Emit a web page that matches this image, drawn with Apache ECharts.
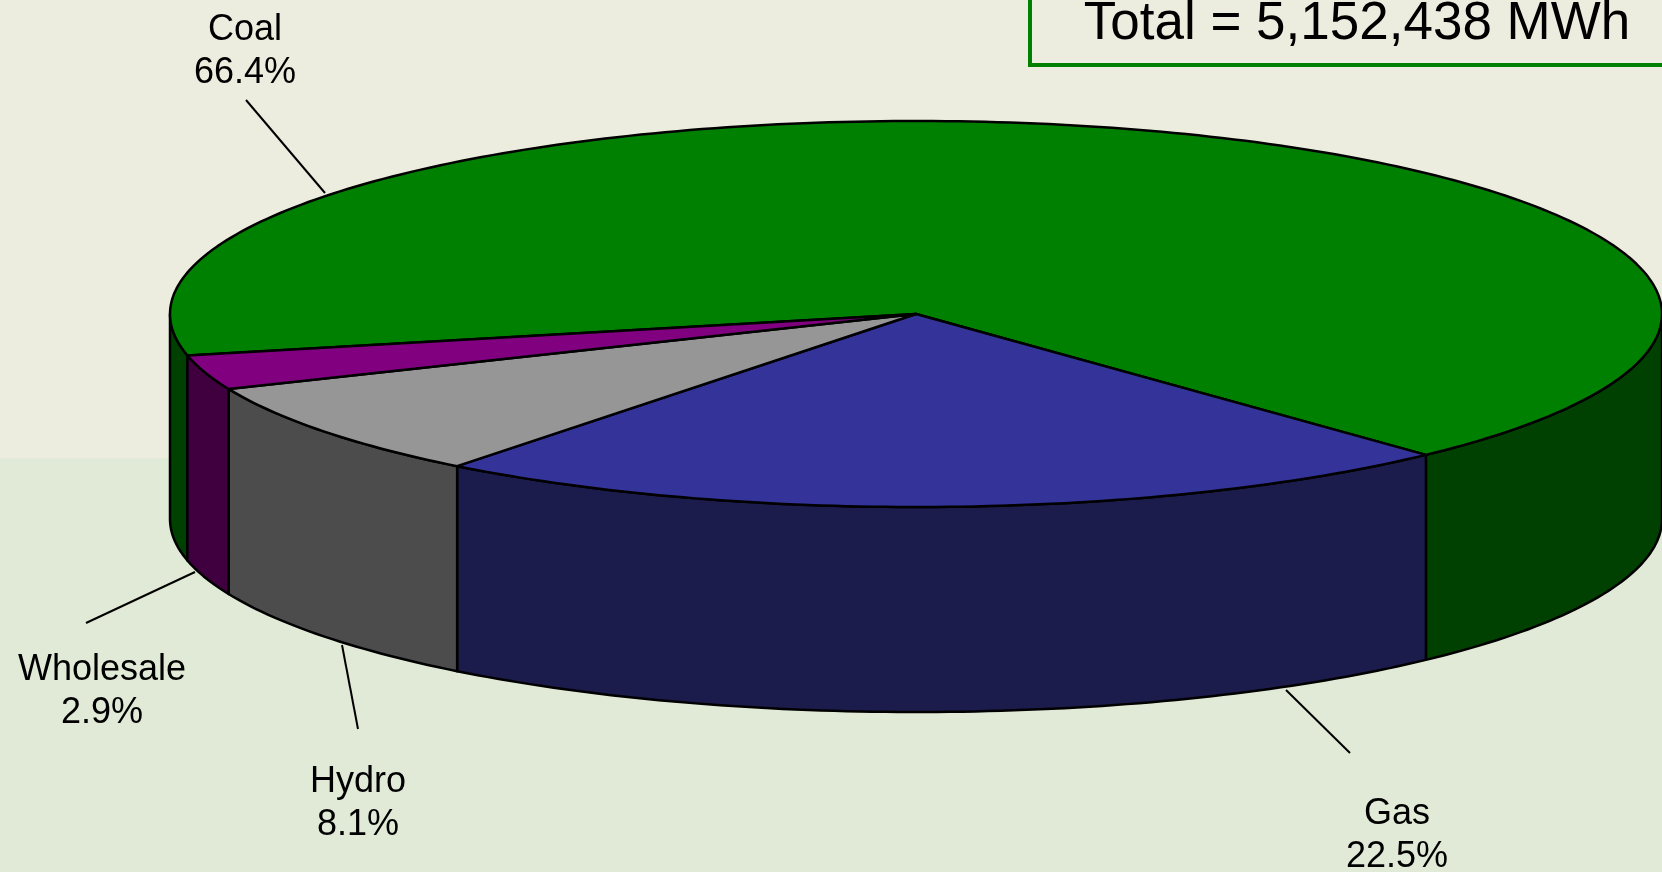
<!DOCTYPE html>
<html>
<head>
<meta charset="utf-8">
<style>
  html, body { margin: 0; padding: 0; background: #ededdf; }
  #chart { width: 1662px; height: 872px; }
</style>
<script src="https://cdn.jsdelivr.net/npm/echarts@6/dist/echarts.min.js"></script>
</head>
<body>
<div id="chart"></div>
<script>
const categories = ["Coal", "Gas", "Hydro", "Wholesale"];
const shares = [66.4, 22.5, 8.1, 2.9];
const totalText = "Total = 5,152,438 MWh";

const topColors = ["#008000", "#333399", "#969696", "#800080"];
const sideColors = ["#004000", "#1b1b4c", "#4c4c4c", "#400040"];

// label centres and leader lines (px)
const labelPos = [[245, 52], [1397, 836], [358, 804], [102, 692]];
const leaders = [
  [[246, 100], [325, 193]],
  [[1350, 753], [1286, 690]],
  [[358, 729], [342, 645]],
  [[86, 623], [195, 572]]
];

const cx = 916, cy = 314, rx = 746, ry = 193, depth = 205;
const startDeg = 167.6; // screen angle, clockwise from 3 o'clock
const sum = shares.reduce((a, b) => a + b, 0);

function ellPt(deg, dy) {
  const r = deg * Math.PI / 180;
  return [cx + rx * Math.cos(r), cy + ry * Math.sin(r) + dy];
}
function arcPts(a, b, dy) {
  const pts = [];
  const n = Math.max(2, Math.ceil(Math.abs(b - a)));
  for (let i = 0; i <= n; i++) pts.push(ellPt(a + (b - a) * i / n, dy));
  return pts;
}

function renderSlice(params, api) {
  const i = params.dataIndex;
  let before = 0;
  for (let k = 0; k < i; k++) before += shares[k];
  const a0 = startDeg + before / sum * 360;
  const a1 = a0 + api.value(0) / sum * 360;
  const children = [];
  // visible part of the rim (front half)
  for (let base = 0; base <= 720; base += 360) {
    const s = Math.max(a0, base), e = Math.min(a1, base + 180);
    if (e > s) {
      children.push({
        type: "polygon",
        shape: { points: arcPts(s, e, 0).concat(arcPts(e, s, depth)) },
        style: { fill: sideColors[i], stroke: "#000", lineWidth: 2.5, lineJoin: "round" }
      });
    }
  }
  children.push({
    type: "polygon",
    z2: 10,
    shape: { points: [[cx, cy]].concat(arcPts(a0, a1, 0)) },
    style: { fill: topColors[i], stroke: "#000", lineWidth: 2.5, lineJoin: "round" }
  });
  const ln = leaders[i];
  children.push({
    type: "line",
    shape: { x1: ln[0][0], y1: ln[0][1], x2: ln[1][0], y2: ln[1][1] },
    style: { stroke: "#000", lineWidth: 2 }
  });
  children.push({
    type: "text",
    style: {
      text: categories[i] + "\n" + api.value(0).toFixed(1) + "%",
      x: labelPos[i][0], y: labelPos[i][1],
      align: "center", verticalAlign: "middle",
      fontFamily: "Liberation Sans, Arial, sans-serif",
      fontSize: 36, lineHeight: 43, fill: "#000"
    }
  });
  return { type: "group", children: children };
}

const chart = echarts.init(document.getElementById("chart"));
chart.setOption({
  animation: false,
  graphic: [
    { type: "rect", z: -10, shape: { x: 0, y: 0, width: 1662, height: 458 }, style: { fill: "#ededdf" } },
    { type: "rect", z: -10, shape: { x: 0, y: 458, width: 1662, height: 414 }, style: { fill: "#e1ead6" } },
    { type: "rect", shape: { x: 1030, y: -10, width: 700, height: 75 }, style: { fill: "none", stroke: "#008000", lineWidth: 4 } },
    {
      type: "text", x: 1357, y: 24,
      style: {
        text: totalText, align: "center", verticalAlign: "middle",
        fontFamily: "Liberation Sans, Arial, sans-serif",
        fontSize: 53, fill: "#000"
      }
    }
  ],
  series: [{
    type: "custom",
    coordinateSystem: "none",
    renderItem: renderSlice,
    data: shares.map((v, i) => ({ name: categories[i], value: [v] }))
  }]
});
</script>
</body>
</html>
